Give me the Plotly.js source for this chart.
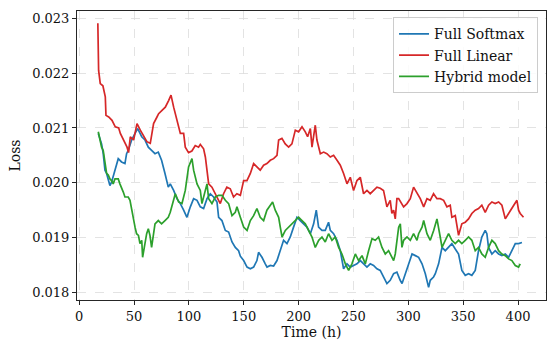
<!DOCTYPE html>
<html>
<head>
<meta charset="utf-8">
<script src="https://cdn.plot.ly/plotly-3.0.1.min.js"></script>
<style>
  html, body { margin: 0; padding: 0; background: #fff; }
  #chart { width: 556px; height: 348px; }
</style>
</head>
<body>
<div id="chart"></div>
<script>
// values (time in hours, loss)
const softmaxX = [17.4, 20.4, 21.9, 23.5, 25.0, 26.5, 28.0, 29.5, 31.0, 32.6, 35.6, 38.6, 41.7, 43.2, 44.7, 47.8, 50.9, 53.3, 54.0, 57.0, 60.0, 63.0, 66.0, 69.1, 72.1, 75.1, 78.2, 81.2, 83.0, 86.1, 89.1, 92.2, 95.2, 98.2, 101.3, 104.3, 107.4, 110.4, 113.4, 116.5, 119.5, 122.5, 125.6, 127.1, 130.1, 133.2, 136.2, 139.3, 142.3, 145.3, 146.9, 149.9, 153.0, 156.0, 159.0, 162.0, 163.5, 166.6, 169.6, 171.2, 174.2, 177.2, 180.3, 183.3, 186.3, 189.4, 192.4, 195.4, 198.5, 201.5, 204.6, 207.6, 210.7, 213.7, 216.1, 218.2, 221.3, 224.3, 227.3, 228.9, 231.9, 235.0, 238.0, 241.0, 244.1, 247.1, 250.1, 253.2, 256.2, 259.2, 262.3, 265.3, 268.3, 271.4, 274.4, 277.4, 280.5, 283.5, 286.6, 289.6, 291.2, 292.6, 294.3, 297.3, 300.3, 303.4, 306.4, 309.4, 312.5, 315.5, 318.5, 320.0, 323.0, 324.6, 327.6, 330.7, 333.7, 336.7, 339.7, 342.8, 345.8, 348.8, 351.9, 354.9, 357.9, 361.0, 364.0, 367.0, 370.1, 371.6, 373.1, 376.2, 379.2, 382.3, 385.3, 388.4, 391.4, 394.4, 397.5, 400.5, 403.6];
const softmaxY = [0.02090, 0.02071, 0.02053, 0.02023, 0.02017, 0.02004, 0.01995, 0.02001, 0.02014, 0.02023, 0.02044, 0.02038, 0.02035, 0.02053, 0.02059, 0.02078, 0.02090, 0.02099, 0.02096, 0.02084, 0.02078, 0.02065, 0.02059, 0.02053, 0.02056, 0.02041, 0.02017, 0.01992, 0.01998, 0.01986, 0.01971, 0.01962, 0.01950, 0.01937, 0.01956, 0.01971, 0.01968, 0.01956, 0.01953, 0.01971, 0.01980, 0.01974, 0.01965, 0.01937, 0.01931, 0.01913, 0.01910, 0.01892, 0.01882, 0.01876, 0.01866, 0.01858, 0.01846, 0.01843, 0.01846, 0.01858, 0.01873, 0.01864, 0.01852, 0.01846, 0.01849, 0.01848, 0.01858, 0.01876, 0.01895, 0.01889, 0.01901, 0.01919, 0.01937, 0.01931, 0.01925, 0.01919, 0.01907, 0.01925, 0.01950, 0.01919, 0.01913, 0.01913, 0.01928, 0.01913, 0.01907, 0.01895, 0.01876, 0.01843, 0.01852, 0.01846, 0.01849, 0.01852, 0.01858, 0.01852, 0.01846, 0.01852, 0.01849, 0.01843, 0.01840, 0.01828, 0.01816, 0.01822, 0.01834, 0.01837, 0.01828, 0.01822, 0.01816, 0.01834, 0.01852, 0.01870, 0.01867, 0.01864, 0.01852, 0.01834, 0.01809, 0.01822, 0.01828, 0.01834, 0.01852, 0.01882, 0.01876, 0.01882, 0.01889, 0.01879, 0.01870, 0.01840, 0.01831, 0.01834, 0.01831, 0.01840, 0.01876, 0.01901, 0.01913, 0.01907, 0.01882, 0.01870, 0.01876, 0.01870, 0.01867, 0.01870, 0.01864, 0.01876, 0.01889, 0.01889, 0.01891];

const linearX = [17.0, 17.7, 19.2, 21.6, 23.8, 24.4, 26.9, 29.9, 32.9, 36.0, 37.5, 40.5, 43.6, 45.0, 46.6, 49.6, 52.7, 55.7, 58.7, 61.7, 64.8, 67.8, 70.9, 72.4, 75.5, 78.5, 81.5, 83.7, 86.1, 89.1, 92.2, 95.2, 96.7, 99.7, 102.7, 105.8, 108.8, 110.4, 113.4, 115.0, 116.5, 118.0, 121.0, 125.6, 128.6, 131.6, 134.6, 137.7, 140.7, 143.7, 146.9, 149.9, 152.9, 156.0, 159.0, 162.0, 165.0, 168.1, 171.1, 174.2, 177.2, 180.3, 181.8, 184.8, 187.8, 190.9, 193.9, 197.0, 200.0, 203.1, 206.1, 208.2, 210.7, 212.2, 215.2, 216.7, 219.8, 222.8, 225.8, 228.9, 231.9, 235.0, 238.0, 241.0, 244.1, 247.1, 250.1, 253.2, 256.2, 259.2, 262.3, 265.3, 268.3, 271.4, 274.4, 277.4, 280.5, 283.5, 285.0, 286.6, 288.1, 289.6, 291.2, 292.7, 295.7, 298.8, 301.8, 304.8, 307.9, 310.9, 314.0, 317.0, 320.0, 323.0, 326.1, 329.1, 332.2, 335.2, 338.2, 339.7, 342.8, 345.8, 348.8, 351.9, 354.9, 357.9, 361.0, 364.0, 367.0, 370.1, 373.2, 376.2, 379.2, 382.3, 385.3, 388.4, 391.4, 394.4, 399.0, 400.5, 402.0, 405.0];
const linearY = [0.02291, 0.02205, 0.02181, 0.02177, 0.02157, 0.02123, 0.02120, 0.02114, 0.02102, 0.02100, 0.02090, 0.02078, 0.02065, 0.02055, 0.02084, 0.02078, 0.02108, 0.02096, 0.02084, 0.02075, 0.02072, 0.02108, 0.02120, 0.02126, 0.02132, 0.02138, 0.02150, 0.02160, 0.02138, 0.02114, 0.02090, 0.02090, 0.02065, 0.02055, 0.02058, 0.02068, 0.02065, 0.02070, 0.02062, 0.02047, 0.02017, 0.01998, 0.01992, 0.01974, 0.01962, 0.01980, 0.01992, 0.01989, 0.01974, 0.01980, 0.01977, 0.02004, 0.02004, 0.02017, 0.02035, 0.02029, 0.02023, 0.02032, 0.02035, 0.02041, 0.02044, 0.02050, 0.02078, 0.02081, 0.02071, 0.02065, 0.02071, 0.02096, 0.02093, 0.02102, 0.02093, 0.02084, 0.02099, 0.02065, 0.02105, 0.02078, 0.02053, 0.02056, 0.02053, 0.02047, 0.02050, 0.02041, 0.02032, 0.02017, 0.01998, 0.02010, 0.01986, 0.02004, 0.02010, 0.01980, 0.01986, 0.01980, 0.01986, 0.01992, 0.01990, 0.01986, 0.01956, 0.01968, 0.01944, 0.01950, 0.01934, 0.01971, 0.01971, 0.01965, 0.01956, 0.01962, 0.01971, 0.01992, 0.01980, 0.01971, 0.01956, 0.01971, 0.01968, 0.01980, 0.01971, 0.01971, 0.01968, 0.01956, 0.01959, 0.01937, 0.01940, 0.01904, 0.01925, 0.01928, 0.01934, 0.01944, 0.01950, 0.01953, 0.01959, 0.01946, 0.01959, 0.01965, 0.01962, 0.01965, 0.01959, 0.01934, 0.01944, 0.01953, 0.01968, 0.01950, 0.01944, 0.01937];

const hybridX = [17.4, 20.4, 21.9, 23.5, 25.0, 26.5, 28.0, 29.5, 31.0, 32.6, 35.6, 37.1, 38.6, 40.2, 41.7, 44.7, 46.3, 47.8, 49.3, 50.9, 52.3, 54.0, 55.4, 57.0, 57.8, 60.0, 61.5, 63.0, 64.5, 66.0, 69.1, 72.1, 75.1, 78.2, 81.2, 83.0, 86.1, 87.6, 90.6, 93.7, 96.7, 99.7, 102.8, 104.3, 107.4, 110.4, 111.9, 114.9, 116.5, 118.0, 121.0, 124.1, 127.1, 130.2, 133.2, 136.2, 139.3, 142.3, 143.8, 146.9, 149.9, 153.0, 156.0, 159.0, 162.0, 165.0, 168.1, 171.1, 174.2, 176.3, 178.7, 181.8, 183.3, 184.9, 187.9, 191.0, 194.0, 197.0, 200.0, 203.1, 206.1, 209.1, 212.2, 215.2, 218.3, 221.3, 224.3, 227.3, 230.4, 233.4, 236.5, 239.5, 242.6, 245.6, 248.6, 251.7, 254.7, 257.8, 260.8, 263.8, 266.9, 269.9, 272.9, 276.0, 279.0, 282.0, 285.1, 286.6, 288.1, 289.6, 291.2, 292.7, 294.2, 295.7, 298.8, 301.8, 304.8, 307.9, 309.4, 312.5, 314.0, 317.0, 320.0, 323.1, 326.1, 329.1, 330.7, 333.7, 336.7, 339.7, 342.8, 345.8, 348.8, 351.9, 354.9, 357.9, 361.0, 364.0, 367.0, 370.1, 373.2, 376.2, 379.2, 382.3, 385.3, 388.4, 391.4, 394.4, 397.5, 400.5, 402.0];
const hybridY = [0.02093, 0.02065, 0.02059, 0.02041, 0.02017, 0.02014, 0.02007, 0.02004, 0.01998, 0.02007, 0.02007, 0.01998, 0.01992, 0.01983, 0.01974, 0.01974, 0.01968, 0.01950, 0.01931, 0.01919, 0.01907, 0.01904, 0.01889, 0.01895, 0.01864, 0.01889, 0.01907, 0.01916, 0.01904, 0.01882, 0.01925, 0.01931, 0.01925, 0.01931, 0.01937, 0.01946, 0.01968, 0.01980, 0.01965, 0.01962, 0.01986, 0.02029, 0.02044, 0.02023, 0.01998, 0.01986, 0.01962, 0.01986, 0.01998, 0.01971, 0.01962, 0.01974, 0.01977, 0.01977, 0.01968, 0.01962, 0.01940, 0.01946, 0.01956, 0.01937, 0.01919, 0.01913, 0.01931, 0.01940, 0.01953, 0.01937, 0.01931, 0.01950, 0.01959, 0.01965, 0.01950, 0.01937, 0.01919, 0.01901, 0.01913, 0.01919, 0.01925, 0.01931, 0.01937, 0.01931, 0.01925, 0.01913, 0.01901, 0.01882, 0.01895, 0.01901, 0.01892, 0.01907, 0.01895, 0.01901, 0.01882, 0.01870, 0.01852, 0.01840, 0.01852, 0.01870, 0.01858, 0.01867, 0.01852, 0.01876, 0.01898, 0.01895, 0.01901, 0.01882, 0.01870, 0.01876, 0.01864, 0.01858, 0.01870, 0.01895, 0.01919, 0.01925, 0.01882, 0.01895, 0.01901, 0.01895, 0.01907, 0.01895, 0.01907, 0.01919, 0.01931, 0.01907, 0.01895, 0.01913, 0.01934, 0.01901, 0.01882, 0.01895, 0.01907, 0.01895, 0.01889, 0.01895, 0.01889, 0.01895, 0.01901, 0.01895, 0.01876, 0.01882, 0.01870, 0.01864, 0.01882, 0.01895, 0.01889, 0.01876, 0.01870, 0.01867, 0.01861, 0.01858, 0.01849, 0.01846, 0.01852];

const seriesNames = ["Full Softmax", "Full Linear", "Hybrid model"];
const seriesColors = ["#1f77b4", "#d62728", "#2ca02c"];
const xTicks = [0, 50, 100, 150, 200, 250, 300, 350, 400];
const yTicks = [0.018, 0.019, 0.020, 0.021, 0.022, 0.023];

const font = "DejaVu Serif, Liberation Serif, serif";

const traces = [
  [softmaxX, softmaxY],
  [linearX, linearY],
  [hybridX, hybridY]
].map(([x, y], i) => ({
  x: x,
  y: y,
  name: seriesNames[i],
  type: "scatter",
  mode: "lines",
  line: { color: seriesColors[i], width: 1.7 }
}));

const axisCommon = {
  showline: true,
  mirror: true,
  linecolor: "#262626",
  linewidth: 1,
  ticks: "outside",
  ticklen: 4,
  tickcolor: "#262626",
  showgrid: true,
  gridcolor: "#dcdcdc",
  griddash: "dash",
  gridwidth: 0.8,
  zeroline: false,
  tickfont: { family: font, size: 13, color: "#111" }
};

Plotly.newPlot("chart", traces, {
  width: 556,
  height: 348,
  margin: { l: 77, r: 10, t: 11, b: 48 },
  paper_bgcolor: "#fff",
  plot_bgcolor: "#fff",
  showlegend: true,
  legend: {
    x: 0.983, xanchor: "right",
    y: 0.978, yanchor: "top",
    bgcolor: "rgba(255,255,255,0.85)",
    bordercolor: "#cccccc",
    borderwidth: 1,
    itemwidth: 30,
    font: { family: font, size: 14, color: "#111" }
  },
  xaxis: Object.assign({}, axisCommon, {
    range: [-2, 425.5],
    tickvals: xTicks,
    title: { text: "Time (h)", font: { family: font, size: 14, color: "#111" }, standoff: 4 }
  }),
  yaxis: Object.assign({}, axisCommon, {
    range: [0.01786, 0.023135],
    tickvals: yTicks,
    tickformat: ".3f",
    title: { text: "Loss", font: { family: font, size: 14, color: "#111" }, standoff: 8 }
  })
}, { displayModeBar: false, staticPlot: true });
</script>
</body>
</html>
